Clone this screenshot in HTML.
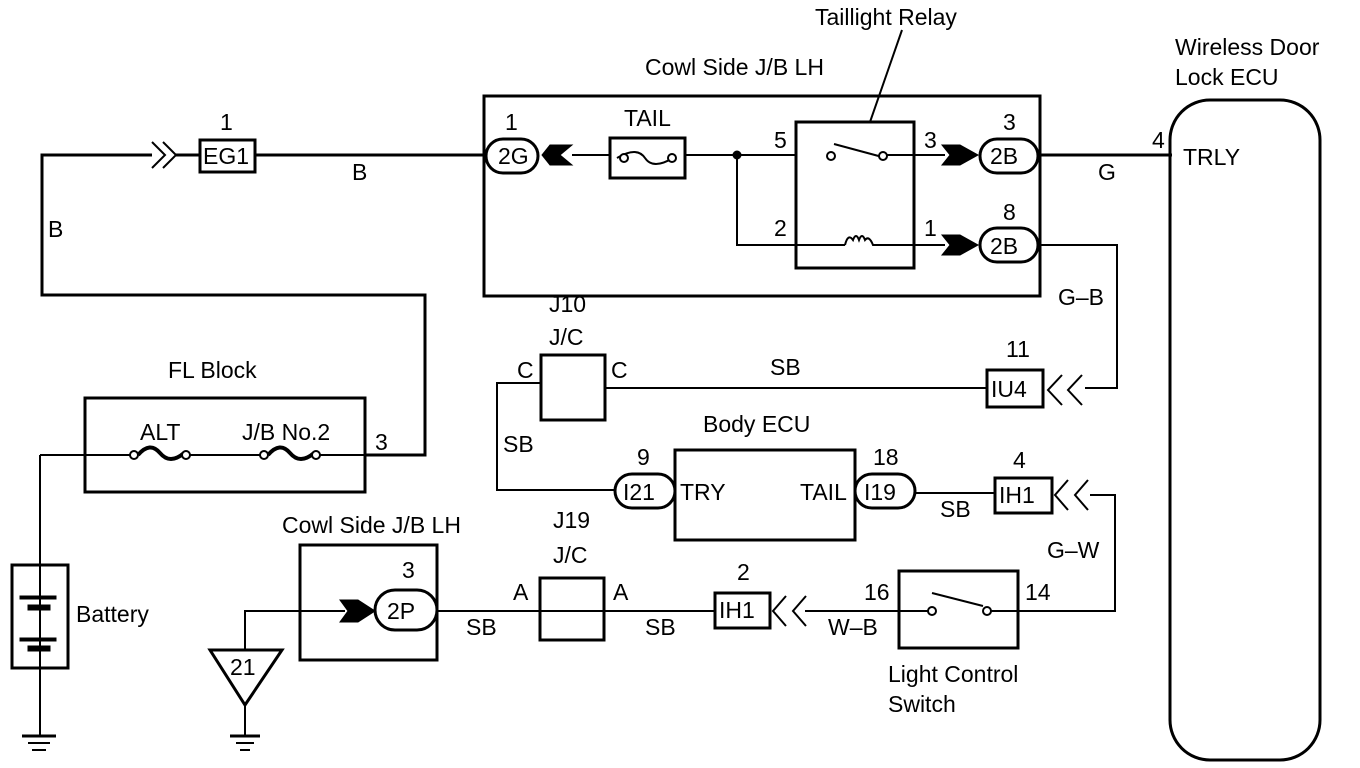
<!DOCTYPE html>
<html><head><meta charset="utf-8"><style>
html,body{margin:0;padding:0;background:#fff}
svg{display:block}
text{font-family:"Liberation Sans",sans-serif;font-size:23px;fill:#000}
</style></head><body>
<svg width="1360" height="768" viewBox="0 0 1360 768" xmlns="http://www.w3.org/2000/svg">
<g fill="none" stroke="#000" stroke-width="3">
<rect x="1170" y="100" width="150" height="660" rx="40"/>
<rect x="484" y="96" width="556" height="200"/>
<rect x="796" y="122" width="118" height="146"/>
<line x1="870" y1="122" x2="902" y2="30" stroke-width="2"/>
<polyline points="152,155 42,155 42,295 425,295 425,455 365,455"/>
<line x1="255" y1="155" x2="486" y2="155"/>
<line x1="175" y1="155" x2="200" y2="155"/>
<rect x="200" y="140" width="55" height="32"/>
<rect x="486" y="139" width="52" height="34" rx="17"/>
<line x1="572" y1="155" x2="610" y2="155" stroke-width="2"/>
<rect x="610" y="138" width="75" height="40"/>
<path d="M617,158 q20,-12 28,0 q8,12 28,0" stroke-width="2"/>
<line x1="685" y1="155" x2="796" y2="155" stroke-width="2"/>
<polyline points="737,155 737,245 796,245" stroke-width="2"/>
<line x1="914" y1="155" x2="945" y2="155" stroke-width="2"/>
<line x1="914" y1="245" x2="945" y2="245" stroke-width="2"/>
<line x1="886" y1="155" x2="914" y2="155" stroke-width="2"/>
<line x1="834" y1="144" x2="886" y2="158" stroke-width="2"/>
<line x1="796" y1="245" x2="845" y2="245" stroke-width="2"/>
<path d="M845,245 q3,-12 8,-5 q3,-8 6,0 q3,-8 6,0 q4,-5 8,5 l41,0" stroke-width="2"/>
<rect x="980" y="139" width="58" height="34" rx="17"/>
<rect x="980" y="228" width="58" height="34" rx="17"/>
<line x1="1038" y1="155" x2="1172" y2="155"/>
<polyline points="1038,245 1117,245 1117,388 1085,388" stroke-width="2"/>
<rect x="987" y="370" width="56" height="37"/>
<polyline points="1062,375 1048,390 1062,405" stroke-width="2"/>
<polyline points="1082,375 1068,390 1082,405" stroke-width="2"/>
<line x1="987" y1="388" x2="605" y2="388" stroke-width="2"/>
<rect x="541" y="355" width="64" height="65"/>
<polyline points="541,383 497,383 497,490 615,490" stroke-width="2"/>
<rect x="615" y="474" width="60" height="34" rx="17"/>
<rect x="675" y="450" width="180" height="90"/>
<rect x="855" y="474" width="60" height="34" rx="17"/>
<line x1="915" y1="493" x2="995" y2="493" stroke-width="2"/>
<rect x="995" y="478" width="57" height="35"/>
<polyline points="1068,480 1055,495 1068,510" stroke-width="2"/>
<polyline points="1088,480 1075,495 1088,510" stroke-width="2"/>
<polyline points="1090,495 1115,495 1115,611 1018,611" stroke-width="2"/>
<rect x="899" y="571" width="119" height="77"/>
<line x1="899" y1="611" x2="928" y2="611" stroke-width="2"/>
<line x1="990" y1="611" x2="1018" y2="611" stroke-width="2"/>
<line x1="932" y1="593" x2="983" y2="606" stroke-width="2"/>
<line x1="899" y1="611" x2="805" y2="611" stroke-width="2"/>
<polyline points="786,596 773,611 786,626" stroke-width="2"/>
<polyline points="806,596 793,611 806,626" stroke-width="2"/>
<rect x="715" y="593" width="55" height="35"/>
<line x1="715" y1="611" x2="437" y2="611" stroke-width="2"/>
<rect x="540" y="578" width="64" height="62"/>
<rect x="300" y="545" width="137" height="115"/>
<rect x="375" y="590" width="62" height="40" rx="20"/>
<polyline points="345,611 245,611 245,650" stroke-width="2"/>
<polygon points="210,650 282,650 245,705"/>
<line x1="245" y1="705" x2="245" y2="735" stroke-width="2"/>
<line x1="230" y1="736" x2="260" y2="736"/><line x1="236" y1="743" x2="254" y2="743" stroke-width="2"/><line x1="240" y1="750" x2="250" y2="750" stroke-width="2"/>
<rect x="85" y="398" width="280" height="94"/>
<line x1="40" y1="455" x2="132" y2="455" stroke-width="2"/>
<line x1="190" y1="455" x2="262" y2="455" stroke-width="2"/>
<line x1="320" y1="455" x2="365" y2="455" stroke-width="2"/>
<path d="M138,455 q12,-14 22,-2 q10,12 24,0" stroke-width="4"/>
<path d="M268,455 q12,-14 22,-2 q10,12 24,0" stroke-width="4"/>
<line x1="40" y1="455" x2="40" y2="735" stroke-width="2"/>
<rect x="12" y="565" width="56" height="103"/>
<line x1="22" y1="736" x2="56" y2="736"/><line x1="28" y1="743" x2="50" y2="743" stroke-width="2"/><line x1="32" y1="750" x2="46" y2="750" stroke-width="2"/>
</g>
<g fill="#000" stroke="#000">
<circle cx="737" cy="155" r="4"/>
<rect x="20" y="596" width="36" height="3"/><rect x="28" y="605" width="22" height="5"/>
<rect x="20" y="638" width="36" height="3"/><rect x="28" y="646" width="22" height="5"/>
<polygon points="572,145 560,155 572,165 550,165 542,155 550,145"/>
<polygon points="942,145 960,145 978,155 960,165 942,165 950,155"/>
<polygon points="942,235 960,235 978,245 960,255 942,255 950,245"/>
<polygon points="340,600 358,600 375,611 358,622 340,622 348,611"/>
</g>
<g fill="none" stroke="#000" stroke-width="2">
<polyline points="152,142 165,155 152,168"/><polyline points="163,142 176,155 163,168"/>
<circle cx="624" cy="158" r="4" fill="#fff"/><circle cx="672" cy="158" r="4" fill="#fff"/>
<circle cx="831" cy="156" r="4" fill="#fff"/><circle cx="883" cy="156" r="4" fill="#fff"/>
<circle cx="932" cy="611" r="4" fill="#fff"/><circle cx="987" cy="611" r="4" fill="#fff"/>
<circle cx="134" cy="455" r="4" fill="#fff"/><circle cx="186" cy="455" r="4" fill="#fff"/>
<circle cx="264" cy="455" r="4" fill="#fff"/><circle cx="316" cy="455" r="4" fill="#fff"/>
</g>
<g>
<text x="815" y="25">Taillight Relay</text>
<text x="645" y="75">Cowl Side J/B LH</text>
<text x="1175" y="55">Wireless Door</text>
<text x="1175" y="85">Lock ECU</text>
<text x="220" y="130">1</text>
<text x="203" y="164">EG1</text>
<text x="352" y="180">B</text>
<text x="48" y="237">B</text>
<text x="505" y="130">1</text>
<text x="498" y="164">2G</text>
<text x="624" y="126">TAIL</text>
<text x="774" y="148">5</text>
<text x="774" y="236">2</text>
<text x="924" y="148">3</text>
<text x="924" y="236">1</text>
<text x="1003" y="130">3</text>
<text x="1003" y="220">8</text>
<text x="990" y="164">2B</text>
<text x="990" y="254">2B</text>
<text x="1152" y="148">4</text>
<text x="1183" y="165">TRLY</text>
<text x="1098" y="180">G</text>
<text x="1058" y="305">G–B</text>
<text x="549" y="312">J10</text>
<text x="549" y="345">J/C</text>
<text x="517" y="378">C</text>
<text x="611" y="378">C</text>
<text x="770" y="375">SB</text>
<text x="1006" y="357">11</text>
<text x="991" y="397">IU4</text>
<text x="168" y="378">FL Block</text>
<text x="140" y="440">ALT</text>
<text x="242" y="440">J/B No.2</text>
<text x="375" y="450">3</text>
<text x="503" y="452">SB</text>
<text x="703" y="432">Body ECU</text>
<text x="637" y="465">9</text>
<text x="623" y="500">I21</text>
<text x="680" y="500">TRY</text>
<text x="800" y="500">TAIL</text>
<text x="873" y="465">18</text>
<text x="864" y="500">I19</text>
<text x="940" y="517">SB</text>
<text x="1013" y="468">4</text>
<text x="999" y="503">IH1</text>
<text x="1047" y="558">G–W</text>
<text x="1025" y="600">14</text>
<text x="864" y="600">16</text>
<text x="828" y="635">W–B</text>
<text x="888" y="682">Light Control</text>
<text x="888" y="712">Switch</text>
<text x="737" y="580">2</text>
<text x="719" y="618">IH1</text>
<text x="553" y="528">J19</text>
<text x="553" y="563">J/C</text>
<text x="513" y="600">A</text>
<text x="613" y="600">A</text>
<text x="466" y="635">SB</text>
<text x="645" y="635">SB</text>
<text x="282" y="533">Cowl Side J/B LH</text>
<text x="402" y="578">3</text>
<text x="387" y="619">2P</text>
<text x="76" y="622">Battery</text>
<text x="230" y="675">21</text>
</g>
</svg>
</body></html>
